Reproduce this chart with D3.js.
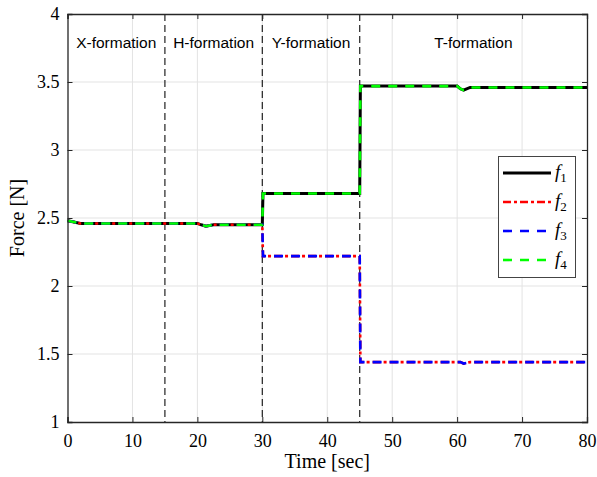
<!DOCTYPE html>
<html><head><meta charset="utf-8">
<script src="https://cdn.jsdelivr.net/npm/d3@7/dist/d3.min.js"></script>
<style>body{margin:0;background:#fff}</style>
</head><body>
<script>
const time = [0, 1, 2, 20, 20.6, 21.3, 22.5, 30, 30.1, 45, 45.1, 60, 60.5, 61, 62, 80];
const f1 = [2.48, 2.47, 2.46, 2.46, 2.45, 2.44, 2.45, 2.45, 2.68, 2.68, 3.47, 3.47, 3.45, 3.44, 3.46, 3.46];
const f2 = [2.48, 2.47, 2.46, 2.46, 2.45, 2.44, 2.45, 2.45, 2.22, 2.22, 1.44, 1.44, 1.44, 1.43, 1.44, 1.44];
const f3 = [2.48, 2.47, 2.46, 2.46, 2.45, 2.44, 2.45, 2.45, 2.22, 2.22, 1.44, 1.44, 1.44, 1.43, 1.44, 1.44];
const f4 = [2.48, 2.47, 2.46, 2.46, 2.45, 2.44, 2.45, 2.45, 2.68, 2.68, 3.47, 3.47, 3.45, 3.44, 3.46, 3.46];
const xTicks = [0, 10, 20, 30, 40, 50, 60, 70, 80];
const yTicks = [1, 1.5, 2, 2.5, 3, 3.5, 4];
const yTickLabels = ["1", "1.5", "2", "2.5", "3", "3.5", "4"];
const switchTimes = [15, 30, 45];
const phaseNames = ["X-formation", "H-formation", "Y-formation", "T-formation"];
const phaseCenters = [7.5, 22.5, 37.5, 62.5];
const seriesNames = ["1", "2", "3", "4"];

const SERIF = "'Liberation Serif', 'Times New Roman', Times, serif";
const SANS = "'Liberation Sans', Arial, Helvetica, sans-serif";
const W = 597, H = 477;
const m = {l: 67.5, r: 587, t: 14, b: 422};
const svg = d3.select("body").append("svg").attr("width", W).attr("height", H);
const x = d3.scaleLinear().domain([0, 80]).range([m.l, m.r]);
const y = d3.scaleLinear().domain([1, 4]).range([m.b, m.t]);
const axisCol = "#262626";

// grid
svg.append("g").selectAll("line").data(xTicks.slice(1, -1)).join("line")
  .attr("x1", d => x(d)).attr("x2", d => x(d)).attr("y1", m.t).attr("y2", m.b)
  .attr("stroke", "#e3e3e3").attr("stroke-width", 1);
svg.append("g").selectAll("line").data(yTicks.slice(1, -1)).join("line")
  .attr("y1", d => y(d)).attr("y2", d => y(d)).attr("x1", m.l).attr("x2", m.r)
  .attr("stroke", "#e3e3e3").attr("stroke-width", 1);

// phase separators
svg.append("g").selectAll("line").data(switchTimes).join("line")
  .attr("x1", d => x(d)).attr("x2", d => x(d)).attr("y1", m.t).attr("y2", m.b)
  .attr("stroke", "#222").attr("stroke-width", 1.2).attr("stroke-dasharray", "7,4");

// phase labels
svg.append("g").selectAll("text").data(phaseNames).join("text")
  .attr("x", (d, i) => x(phaseCenters[i])).attr("y", 48)
  .attr("text-anchor", "middle")
  .style("font-family", SANS).style("font-size", "15.5px").attr("fill", "#000").text(d => d);

// series
const series = [
  {v: f1, color: "#000", w: 3, dash: null},
  {v: f2, color: "#ff0000", w: 2.6, dash: "8,3,3,3"},
  {v: f3, color: "#0000ff", w: 2.6, dash: "9,8"},
  {v: f4, color: "#00ff00", w: 2.6, dash: "9,8"}
];
const line = d3.line().x(d => x(d[0])).y(d => y(d[1]));
series.forEach(s => {
  svg.append("path").datum(time.map((t, i) => [t, s.v[i]]))
    .attr("d", line).attr("fill", "none").attr("stroke", s.color)
    .attr("stroke-width", s.w).attr("stroke-dasharray", s.dash);
});

// axes
const gx = svg.append("g").attr("transform", `translate(0,${m.b})`)
  .call(d3.axisBottom(x).tickValues(xTicks).tickSize(-5).tickPadding(12).tickFormat(d3.format("d")));
const gxt = svg.append("g").attr("transform", `translate(0,${m.t})`)
  .call(d3.axisTop(x).tickValues(xTicks).tickSize(-5).tickFormat(""));
const gy = svg.append("g").attr("transform", `translate(${m.l},0)`)
  .call(d3.axisLeft(y).tickValues(yTicks).tickSize(-5).tickPadding(8).tickFormat((d, i) => yTickLabels[i]));
const gyr = svg.append("g").attr("transform", `translate(${m.r},0)`)
  .call(d3.axisRight(y).tickValues(yTicks).tickSize(-5).tickFormat(""));
[gx, gxt, gy, gyr].forEach(g => {
  g.attr("font-family", SERIF).attr("font-size", 18);
  g.selectAll("path").attr("stroke", axisCol).attr("stroke-width", 1.3);
  g.selectAll("line").attr("stroke", axisCol).attr("stroke-width", 1);
  g.selectAll("text").style("font-family", SERIF).style("font-size", "18px").attr("fill", "#000");
});

// axis labels
svg.append("text").attr("x", x(40)).attr("y", 468).attr("text-anchor", "middle")
  .style("font-family", SERIF).style("font-size", "20px").text("Time [sec]");
svg.append("text").attr("transform", `translate(24,${y(2.5)}) rotate(-90)`)
  .attr("text-anchor", "middle").style("font-family", SERIF).style("font-size", "20px").text("Force [N]");

// legend
const lg = svg.append("g");
lg.append("rect").attr("x", 498.5).attr("y", 156.5).attr("width", 77).attr("height", 121)
  .attr("fill", "#fff").attr("stroke", "#444").attr("stroke-width", 1);
series.forEach((s, i) => {
  const yy = 173 + i * 29;
  lg.append("line").attr("x1", 503).attr("x2", 551).attr("y1", yy).attr("y2", yy)
    .attr("stroke", s.color).attr("stroke-width", s.w).attr("stroke-dasharray", s.dash);
  const t = lg.append("text").attr("x", 555).attr("y", yy + 5)
    .style("font-family", SERIF).style("font-size", "19px");
  t.append("tspan").style("font-style", "italic").text("f");
  t.append("tspan").style("font-size", "13px").attr("dy", 4).text(seriesNames[i]);
});
</script>
</body></html>
